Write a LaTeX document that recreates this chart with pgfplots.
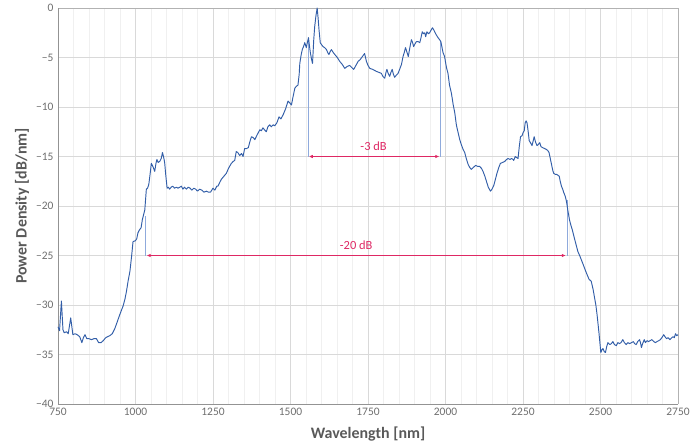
\documentclass[border=0pt]{standalone}
\usepackage{fontspec}
\setmainfont{Carlito}
\usepackage{pgfplots}
\pgfplotsset{compat=1.18}
\usetikzlibrary{arrows.meta}
\definecolor{curve}{RGB}{50,94,168}
\definecolor{annot}{RGB}{222,40,100}
\definecolor{vline}{RGB}{143,170,220}
\definecolor{txtgray}{RGB}{89,89,89}
\definecolor{tickgray}{RGB}{110,110,110}
\definecolor{gridmaj}{RGB}{217,217,217}
\definecolor{gridmin}{RGB}{240,240,240}
\begin{document}
\begin{tikzpicture}
\useasboundingbox (0,0) rectangle (700bp,443bp);
\begin{axis}[
  at={(58bp,39bp)}, anchor=south west,
  scale only axis, width=620bp, height=396bp,
  xmin=750, xmax=2750, ymin=-40, ymax=0,
  xtick={750,1000,...,2750},
  minor xtick={800,850,...,2700},
  ytick={-40,-35,...,0},
  yticklabels={−40,−35,−30,−25,−20,−15,−10,−5,0},
  /pgf/number format/1000 sep={},
  /pgf/number format/assume math mode=true,
  major tick length=0pt, minor tick length=0pt,
  xmajorgrids, xminorgrids, ymajorgrids,
  major grid style={gridmaj, line width=0.8pt},
  minor grid style={gridmin, line width=0.6pt},
  axis line style={draw=none},
  tick label style={font=\fontsize{11.5}{13}\selectfont, text=tickgray},
  xticklabel style={yshift=-1bp},
  yticklabel style={xshift=-1bp},
  xlabel={Wavelength [nm]},
  ylabel={Power Density [dB/nm]},
  label style={font=\fontsize{16}{18}\selectfont\bfseries, text=txtgray},
  xlabel style={at={(axis description cs:0.5,-0.075)}, anchor=center},
  ylabel style={at={(axis description cs:-0.058,0.5)}, anchor=center},
  clip=false,
]
\draw[gray!60, line width=0.8pt] (rel axis cs:0,1) -- (rel axis cs:1,1) -- (rel axis cs:1,0);
\draw[gray!85, line width=0.9pt] (rel axis cs:0,1) -- (rel axis cs:0,0) -- (rel axis cs:1,0);
% annotation vertical lines
\addplot[vline, line width=0.7pt] coordinates {(1556,-3.1) (1556,-15)};
\addplot[vline, line width=0.7pt] coordinates {(1983,-3.3) (1983,-15)};
\addplot[vline, line width=0.7pt] coordinates {(1032,-21.0) (1032,-25)};
\addplot[vline, line width=0.7pt] coordinates {(2392,-19.4) (2392,-25)};
% arrows
\addplot[annot, line width=0.9pt, {Latex[length=4pt,width=3.5pt]}-{Latex[length=4pt,width=3.5pt]}] coordinates {(1559,-15) (1980,-15)};
\addplot[annot, line width=0.9pt, {Latex[length=4pt,width=3.5pt]}-{Latex[length=4pt,width=3.5pt]}] coordinates {(1036,-25) (2388,-25)};
\node[text=annot, font=\fontsize{12.5}{14}\selectfont] at (axis cs:1768,-14.0) {-3 dB};
\node[text=annot, font=\fontsize{12.5}{14}\selectfont] at (axis cs:1712,-24.0) {-20 dB};
\addplot[curve, line width=0.95pt, line join=round] coordinates {
(750,-32.2) (755,-32.6) (761,-29.6) (766,-32.5) (770,-32.8) (778,-32.7) (783,-32.9) (791,-31.3)
(798,-33.0) (805,-32.9) (812,-33.0) (820,-33.2) (827,-33.8) (832,-33.3) (837,-33.0) (843,-33.4)
(850,-33.4) (858,-33.5) (866,-33.4) (874,-33.4) (881,-33.8) (889,-33.8) (896,-33.6) (904,-33.3)
(910,-33.2) (917,-33.1) (925,-32.9) (933,-32.4) (940,-31.8) (949,-31.0) (955,-30.5) (960,-30.1)
(966,-29.4) (971,-28.6) (976,-27.6) (982,-26.6) (987,-25.2) (992,-23.6) (1000,-23.5) (1004,-23.3)
(1008,-22.7) (1013,-22.4) (1018,-22.2) (1022,-21.4) (1026,-20.9) (1030,-20.4) (1035,-18.3) (1039,-18.2)
(1043,-17.8) (1047,-16.8) (1051,-15.7) (1056,-16.0) (1062,-16.5) (1066,-15.7) (1069,-15.3) (1073,-15.6)
(1078,-15.5) (1083,-15.2) (1087,-14.6) (1091,-15.1) (1094,-15.6) (1098,-17.0) (1102,-18.2) (1106,-18.1)
(1110,-18.3) (1115,-18.1) (1120,-18.0) (1126,-18.2) (1132,-18.1) (1137,-18.2) (1143,-18.1) (1148,-18.0)
(1153,-18.3) (1158,-18.1) (1164,-18.3) (1170,-18.1) (1176,-18.2) (1182,-18.4) (1188,-18.2) (1194,-18.3)
(1200,-18.5) (1207,-18.3) (1214,-18.4) (1221,-18.6) (1229,-18.5) (1235,-18.6) (1242,-18.6) (1250,-18.2)
(1256,-18.4) (1262,-18.0) (1266,-18.0) (1272,-17.6) (1277,-17.3) (1285,-17.0) (1293,-16.7) (1300,-16.2)
(1309,-15.7) (1315,-15.5) (1320,-15.4) (1325,-14.5) (1330,-14.6) (1336,-14.9) (1342,-14.7) (1347,-15.0)
(1352,-14.2) (1358,-14.2) (1364,-14.1) (1369,-13.5) (1374,-13.0) (1380,-13.1) (1385,-13.3) (1391,-12.9)
(1396,-12.6) (1401,-12.3) (1406,-12.4) (1411,-12.1) (1416,-12.3) (1422,-12.5) (1427,-12.0) (1433,-11.8)
(1438,-12.0) (1444,-11.8) (1449,-11.9) (1456,-11.6) (1463,-11.0) (1469,-11.2) (1476,-10.8) (1484,-10.2)
(1492,-9.4) (1498,-9.6) (1503,-9.8) (1508,-9.0) (1514,-8.1) (1519,-7.9) (1524,-7.8) (1528,-6.7)
(1530,-5.6) (1534,-4.8) (1538,-4.2) (1542,-3.9) (1546,-3.5) (1549,-3.8) (1551,-4.0) (1555,-3.4)
(1558,-3.0) (1561,-3.8) (1564,-4.5) (1568,-5.2) (1571,-5.6) (1575,-3.2) (1578,-1.9) (1582,-0.8)
(1586,0.0) (1589,-1.0) (1592,-2.2) (1596,-3.5) (1600,-3.7) (1605,-3.9) (1610,-4.0) (1616,-4.2)
(1620,-4.5) (1624,-4.7) (1628,-4.4) (1632,-4.2) (1638,-4.5) (1643,-4.7) (1651,-5.0) (1659,-5.4)
(1667,-5.7) (1675,-6.1) (1683,-5.9) (1691,-5.8) (1697,-6.0) (1704,-6.2) (1711,-5.8) (1718,-5.4)
(1725,-5.2) (1732,-4.9) (1739,-4.6) (1745,-5.4) (1750,-5.8) (1756,-6.1) (1765,-6.2) (1777,-6.4)
(1785,-6.5) (1793,-6.6) (1798,-6.9) (1804,-7.1) (1808,-6.5) (1811,-6.2) (1815,-6.6) (1820,-6.9)
(1824,-6.5) (1828,-6.2) (1832,-6.7) (1836,-7.0) (1841,-6.8) (1847,-6.6) (1852,-6.2) (1858,-5.7)
(1863,-4.9) (1867,-4.5) (1871,-4.0) (1876,-4.5) (1880,-4.9) (1885,-4.0) (1890,-3.2) (1894,-3.5)
(1897,-3.9) (1902,-3.6) (1906,-3.4) (1912,-3.4) (1917,-3.5) (1921,-3.0) (1925,-2.4) (1929,-2.6)
(1933,-2.5) (1936,-2.9) (1940,-2.4) (1945,-2.6) (1949,-2.5) (1954,-2.2) (1958,-2.0) (1962,-2.2)
(1965,-2.4) (1970,-2.7) (1976,-3.0) (1981,-3.2) (1985,-3.4) (1992,-4.5) (1997,-4.9) (2003,-6.0)
(2008,-6.6) (2013,-7.8) (2019,-8.6) (2025,-9.8) (2030,-10.6) (2035,-11.8) (2040,-12.5) (2046,-13.3)
(2051,-13.8) (2057,-14.3) (2062,-14.6) (2067,-15.2) (2073,-15.8) (2078,-16.1) (2083,-16.3) (2090,-16.1)
(2097,-15.9) (2104,-16.0) (2110,-16.0) (2116,-16.2) (2121,-16.5) (2127,-17.0) (2132,-17.5) (2138,-18.1)
(2145,-18.5) (2150,-18.3) (2156,-17.9) (2161,-17.3) (2166,-16.7) (2172,-16.1) (2177,-15.7) (2184,-15.6)
(2191,-15.5) (2197,-15.3) (2202,-15.2) (2208,-15.3) (2213,-15.2) (2218,-15.3) (2220,-15.4) (2225,-15.0)
(2229,-15.1) (2234,-15.2) (2238,-14.0) (2242,-13.0) (2247,-12.9) (2250,-12.6) (2254,-12.4) (2257,-11.6)
(2260,-11.4) (2263,-11.6) (2266,-12.3) (2270,-13.4) (2274,-13.6) (2279,-13.9) (2283,-13.4) (2286,-13.0)
(2290,-13.5) (2295,-13.9) (2299,-13.8) (2304,-13.6) (2308,-14.0) (2313,-14.1) (2320,-14.2) (2326,-14.3)
(2330,-14.4) (2334,-14.6) (2338,-15.2) (2342,-15.8) (2346,-16.4) (2349,-16.7) (2354,-16.8) (2358,-16.8)
(2363,-16.9) (2367,-17.0) (2370,-17.5) (2374,-18.0) (2378,-18.3) (2381,-18.6) (2386,-19.0) (2390,-19.5)
(2395,-20.5) (2400,-21.4) (2405,-22.0) (2409,-22.4) (2413,-22.9) (2417,-23.4) (2422,-24.0) (2427,-24.6)
(2434,-25.1) (2439,-25.5) (2444,-25.9) (2450,-26.4) (2455,-26.8) (2463,-27.4) (2470,-27.6) (2476,-28.4)
(2481,-29.3) (2485,-30.0) (2489,-31.0) (2492,-31.9) (2495,-32.8) (2498,-33.8) (2501,-34.8) (2505,-34.5)
(2508,-34.4) (2512,-34.7) (2516,-34.8) (2520,-34.2) (2524,-33.8) (2530,-34.0) (2535,-33.9) (2540,-33.7)
(2545,-34.0) (2551,-34.1) (2556,-33.8) (2561,-33.9) (2566,-33.8) (2572,-33.5) (2577,-33.8) (2583,-34.0)
(2588,-33.8) (2594,-33.9) (2600,-33.8) (2606,-33.7) (2610,-33.9) (2615,-34.0) (2620,-33.7) (2626,-33.5)
(2629,-33.8) (2632,-34.3) (2636,-33.9) (2641,-33.5) (2645,-33.8) (2650,-33.6) (2655,-33.7) (2660,-33.6)
(2666,-33.5) (2672,-33.7) (2677,-33.8) (2682,-33.7) (2688,-33.6) (2693,-33.5) (2698,-33.3) (2704,-33.0)
(2708,-33.2) (2713,-33.4) (2718,-33.3) (2724,-33.5) (2730,-33.3) (2734,-33.2) (2738,-33.3) (2742,-32.9)
(2746,-33.1) (2750,-33.0)
};
\end{axis}
\end{tikzpicture}
\end{document}
